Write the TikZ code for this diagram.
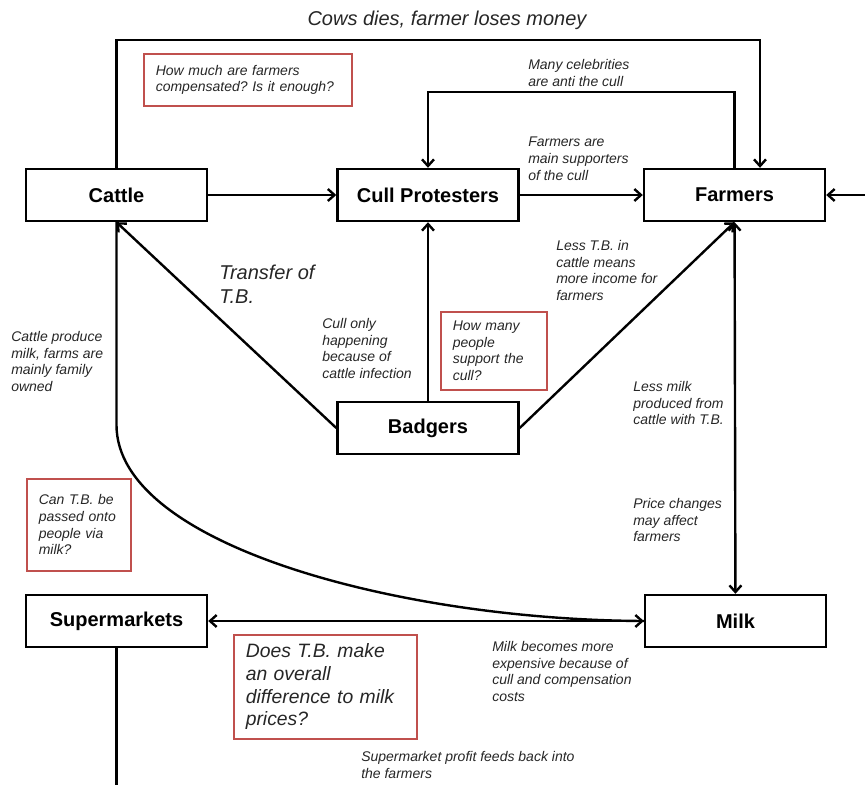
\documentclass[tikz,border=0pt]{standalone}
\usepackage{fontspec}
\setmainfont{Liberation Sans}
\usetikzlibrary{arrows.meta}
\definecolor{qred}{RGB}{192,80,77}
\frenchspacing

\tikzset{
  box/.style={draw,line width=1.8pt,minimum width=135.75pt,minimum height=39pt,inner sep=0pt,font=\fontsize{15}{18}\selectfont\bfseries},
  note/.style={anchor=north west,inner sep=0pt,align=left,text=black!85,font=\fontsize{10.5}{12.5}\selectfont\itshape},
  bignote/.style={note,font=\fontsize{15}{17.5}\selectfont\itshape},
  question/.style={draw=qred,line width=1.2pt,anchor=north west,inner xsep=9pt,inner ysep=0pt,align=left,text=black!85,font=\fontsize{10.5}{12.5}\selectfont\itshape},
  link/.style={line width=1.8pt},
  arr/.style={link,-{Straight Barb[length=5pt,width=9pt]}},
  dbl/.style={link,{Straight Barb[length=5pt,width=9pt]}-{Straight Barb[length=5pt,width=9pt]}},
}

\begin{document}
\begin{tikzpicture}[x=0.75pt,y=-0.75pt]
\useasboundingbox (0,0) rectangle (865,785);

\node[box] (cattle) at (116.5,195) {Cattle};
\node[box] (protest) at (428,195) {Cull Protesters};
\node[box] (farmers) at (734.5,195) {Farmers};
\node[box] (badgers) at (428,428) {Badgers};
\node[box] (super) at (116.5,621) {Supermarkets};
\node[box] (milk) at (735.5,621) {Milk};

\coordinate (cowsturn) at (760,40);
\coordinate (celebturn) at (428,92);
\coordinate (rightin) at (865,195);
\coordinate (bendtop) at (116.5,425);
\coordinate (superdown) at (116.5,785);

\draw[arr] (cattle.north) |- (cowsturn) -- (cowsturn |- farmers.north);
\draw[arr] (farmers.north) |- (celebturn) -- (protest.north);
\draw[arr] (cattle) -- (protest);
\draw[arr] (protest) -- (farmers);
\draw[arr] (rightin) -- (farmers.east);
\draw[arr] (badgers.west) -- (cattle.south);
\draw[arr] (badgers) -- (protest);
\draw[arr] (badgers.east) -- (farmers.south);
\draw[dbl] (milk) -- (farmers);
\draw[link] (cattle.south) -- (bendtop) .. controls (116.5,545) and (400,620) .. (milk.west);
\draw[dbl] (super) -- (milk);
\draw[link] (super.south) -- (superdown);

\node[bignote,anchor=center] (cows) at (447,20) {Cows dies, farmer loses money};
\node[note] (celeb) at (528,59) {Many celebrities\\are anti the cull};
\node[note] (support) at (528,137) {Farmers are\\main supporters\\of the cull};
\node[bignote] (transfer) at (219,265) {Transfer of\\T.B.};
\node[note] (cullonly) at (322,318) {Cull only\\happening\\because of\\cattle infection};
\node[note] (lesstb) at (556,240) {Less T.B. in\\cattle means\\more income for\\farmers};
\node[note] (produce) at (11,331) {Cattle produce\\milk, farms are\\mainly family\\owned};
\node[note] (lessmilk) at (633,381) {Less milk\\produced from\\cattle with T.B.};
\node[note] (price) at (633,498) {Price changes\\may affect\\farmers};
\node[note] (expensive) at (492,641) {Milk becomes more\\expensive because of\\cull and compensation\\costs};
\node[note] (profit) at (361,751) {Supermarket profit feeds back into\\the farmers};

\node[question,minimum width=156pt,minimum height=39pt,text width=138pt] (qpaid) at (143,53) {How much are farmers\\compensated? Is it enough?};
\node[question,minimum width=79.5pt,minimum height=58.5pt,text width=61.5pt] (qpeople) at (440,311) {How many\\people\\support the\\cull?};
\node[question,minimum width=78pt,minimum height=69pt,text width=60pt] (qmilk) at (26,478) {Can T.B. be\\passed onto\\people via\\milk?};
\node[question,minimum width=137.25pt,minimum height=78pt,text width=119.25pt,font=\fontsize{14.5}{17}\selectfont\itshape] (qprice) at (233,634) {Does T.B. make\\an overall\\difference to milk\\prices?};
\end{tikzpicture}
\end{document}
